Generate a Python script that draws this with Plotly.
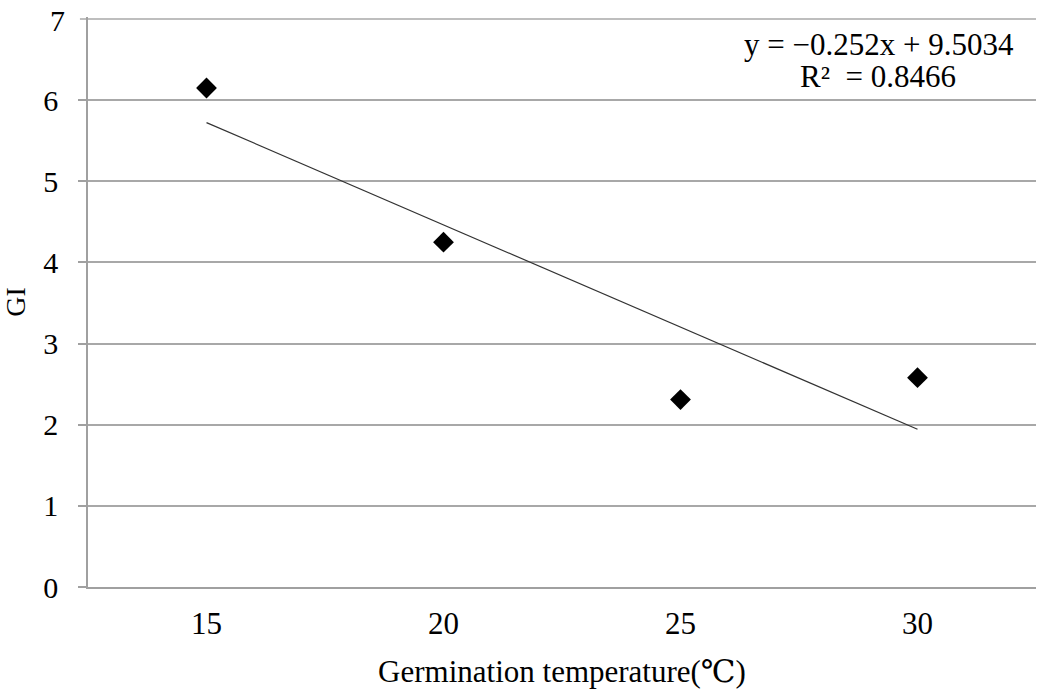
import plotly.graph_objects as go

temperatures = [15, 20, 25, 30]
gi_values = [6.15, 4.25, 2.31, 2.58]
y_ticks = [0, 1, 2, 3, 4, 5, 6, 7]
slope = -0.252
intercept = 9.5034
r_squared = 0.8466

trend_x = [temperatures[0], temperatures[-1]]
trend_y = [slope * x + intercept for x in trend_x]

FONT = "Liberation Serif, DejaVu Serif, Noto Sans CJK KR, serif"
GRID = "#a8a8a8"

fig = go.Figure()
fig.add_trace(go.Scatter(
    x=trend_x, y=trend_y, mode="lines",
    line=dict(color="#333333", width=1.2), showlegend=False, hoverinfo="skip"))
fig.add_trace(go.Scatter(
    x=temperatures, y=gi_values, mode="markers",
    marker=dict(symbol="diamond", size=16, color="black"), showlegend=False))

fig.add_annotation(
    x=0.834, y=0.951, xref="paper", yref="paper", xanchor="center", yanchor="middle",
    text="y = \u22120.252x + 9.5034",
    showarrow=False, font=dict(family=FONT, size=31, color="black"))
fig.add_annotation(
    x=0.833, y=0.895, xref="paper", yref="paper", xanchor="center", yanchor="middle",
    text=f"R\u00b2  = {r_squared:.4f}",
    showarrow=False, font=dict(family=FONT, size=31, color="black"))

# top gridline, tick and label (plotly drops the top tick at the plot edge)
top = y_ticks[-1]
fig.add_shape(type="line", xref="paper", yref="y", x0=-0.0085, x1=1, y0=top, y1=top,
              line=dict(color=GRID, width=1.5), layer="below")
fig.add_annotation(x=0, y=top, xref="paper", yref="y", xanchor="right", yanchor="middle",
                   xshift=-21, yshift=-1, text=str(top), showarrow=False,
                   font=dict(family=FONT, size=30, color="black"))

fig.update_layout(
    template="none",
    width=1038, height=699,
    margin=dict(l=88, r=2, t=17, b=112, autoexpand=False),
    paper_bgcolor="white", plot_bgcolor="white",
    font=dict(family=FONT, color="black"),
    xaxis=dict(
        range=[12.5, 32.5], tickmode="array", tickvals=temperatures, ticktext=[str(t) for t in temperatures],
        showgrid=False, zeroline=False, showline=True, linecolor="#a0a0a0", linewidth=1.5,
        ticks="", tickfont=dict(family=FONT, size=31), ticklabelstandoff=8, automargin=False,
        title=dict(text="Germination temperature(\u2103)", font=dict(family=FONT, size=31), standoff=20)),
    yaxis=dict(
        range=[0, 7.025], tickmode="array", tickvals=y_ticks[:-1], ticktext=[str(v) for v in y_ticks[:-1]],
        showgrid=True, gridcolor=GRID, gridwidth=1.5,
        zeroline=False, showline=True, linecolor="#a0a0a0", linewidth=1.5,
        ticks="outside", ticklen=8, tickcolor="#a0a0a0", tickwidth=1.5,
        tickfont=dict(family=FONT, size=30), ticklabelstandoff=14, automargin=False,
        title=dict(text="GI", font=dict(family=FONT, size=28), standoff=21)),
)

fig.write_html(
    "out.html",
    config={"displayModeBar": False},
    post_script="document.body.style.margin='0';document.body.style.overflow='hidden';",
)
